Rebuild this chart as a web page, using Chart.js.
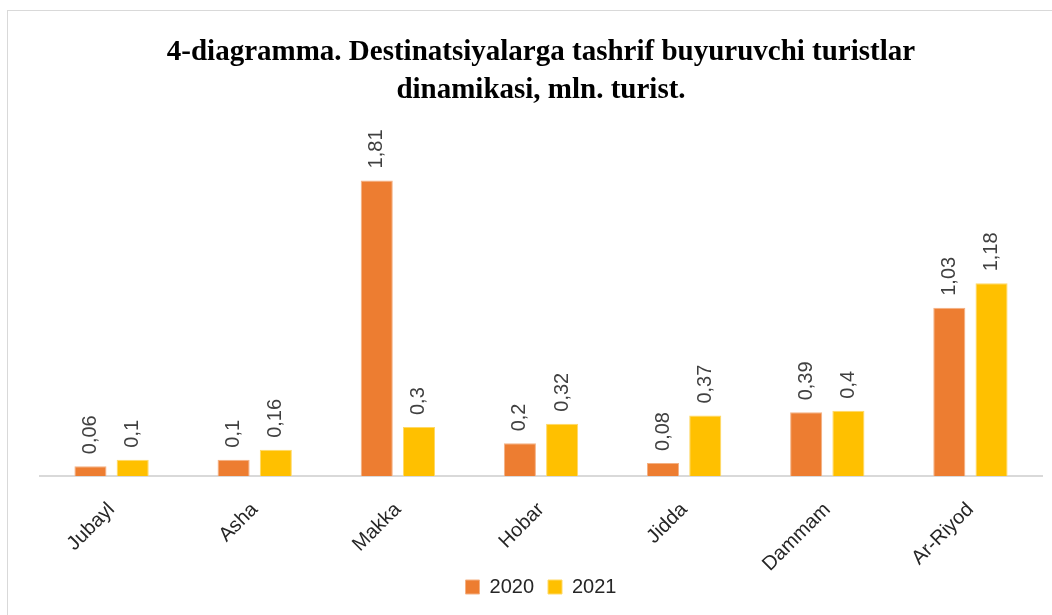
<!DOCTYPE html>
<html>
<head>
<meta charset="utf-8">
<script src="https://cdn.jsdelivr.net/npm/chart.js"></script>
<style>
  html, body { margin: 0; padding: 0; background: #fff; }
  #wrap { position: relative; width: 1052px; height: 615px; }
  #frame { position: absolute; left: 7px; top: 10px; width: 1060px; height: 620px; border: 1px solid #d9d9d9; box-sizing: border-box; }
  canvas { position: absolute; left: 0; top: 0; }
</style>
</head>
<body>
<div id="wrap">
  <div id="frame"></div>
  <canvas id="chart" width="1052" height="615"></canvas>
</div>
<script>
const cities = ['Jubayl', 'Asha', 'Makka', 'Hobar', 'Jidda', 'Dammam', 'Ar-Riyod'];
const y2020 = [0.06, 0.1, 1.81, 0.2, 0.08, 0.39, 1.03];
const y2021 = [0.1, 0.16, 0.3, 0.32, 0.37, 0.4, 1.18];

// vertical value labels above bars, comma decimals
const barLabels = {
  id: 'barLabels',
  afterDatasetsDraw(chart) {
    const ctx = chart.ctx;
    ctx.save();
    ctx.font = '20px "Liberation Sans"';
    ctx.fillStyle = '#404040';
    ctx.textAlign = 'left';
    ctx.textBaseline = 'middle';
    chart.data.datasets.forEach((ds, i) => {
      chart.getDatasetMeta(i).data.forEach((bar, j) => {
        ctx.save();
        ctx.translate(bar.x, bar.y - 12);
        ctx.rotate(-Math.PI / 2);
        ctx.fillText(String(ds.data[j]).replace('.', ','), 0, 0);
        ctx.restore();
      });
    });
    ctx.restore();
  }
};

new Chart(document.getElementById('chart'), {
  type: 'bar',
  data: {
    labels: cities,
    datasets: [
      { label: '2020', data: y2020, backgroundColor: '#ED7D31', borderColor: '#F4B183', borderWidth: 1 },
      { label: '2021', data: y2021, backgroundColor: '#FFC000', borderColor: '#FFD966', borderWidth: 1 }
    ]
  },
  options: {
    responsive: false,
    animation: false,
    layout: { padding: { left: 40, right: 10, top: 34, bottom: 8 } },
    datasets: { bar: { categoryPercentage: 0.59, barPercentage: 0.76 } },
    plugins: {
      title: {
        display: true,
        text: ['4-diagramma. Destinatsiyalarga tashrif buyuruvchi turistlar', 'dinamikasi, mln. turist.'],
        font: { family: '"Liberation Serif"', size: 29, weight: 'bold', lineHeight: 1.3 },
        color: '#000',
        padding: { top: 0, bottom: 40 }
      },
      legend: {
        position: 'bottom',
        labels: { font: { family: '"Liberation Sans"', size: 20 }, color: '#262626', boxWidth: 14, boxHeight: 14, padding: 14 }
      },
      tooltip: { enabled: false }
    },
    scales: {
      x: {
        grid: { display: false },
        border: { color: '#d9d9d9', width: 2 },
        ticks: { font: { family: '"Liberation Sans"', size: 20 }, color: '#262626', minRotation: 45, maxRotation: 45, padding: 14 },
        afterFit(scale) {
          scale.height = 87;
          // let rotated labels run past the axis box instead of being clipped
          scale._computeLabelArea = () => undefined;
        }
      },
      y: { display: false, min: 0, max: 2 }
    }
  },
  plugins: [barLabels]
});
</script>
</body>
</html>
